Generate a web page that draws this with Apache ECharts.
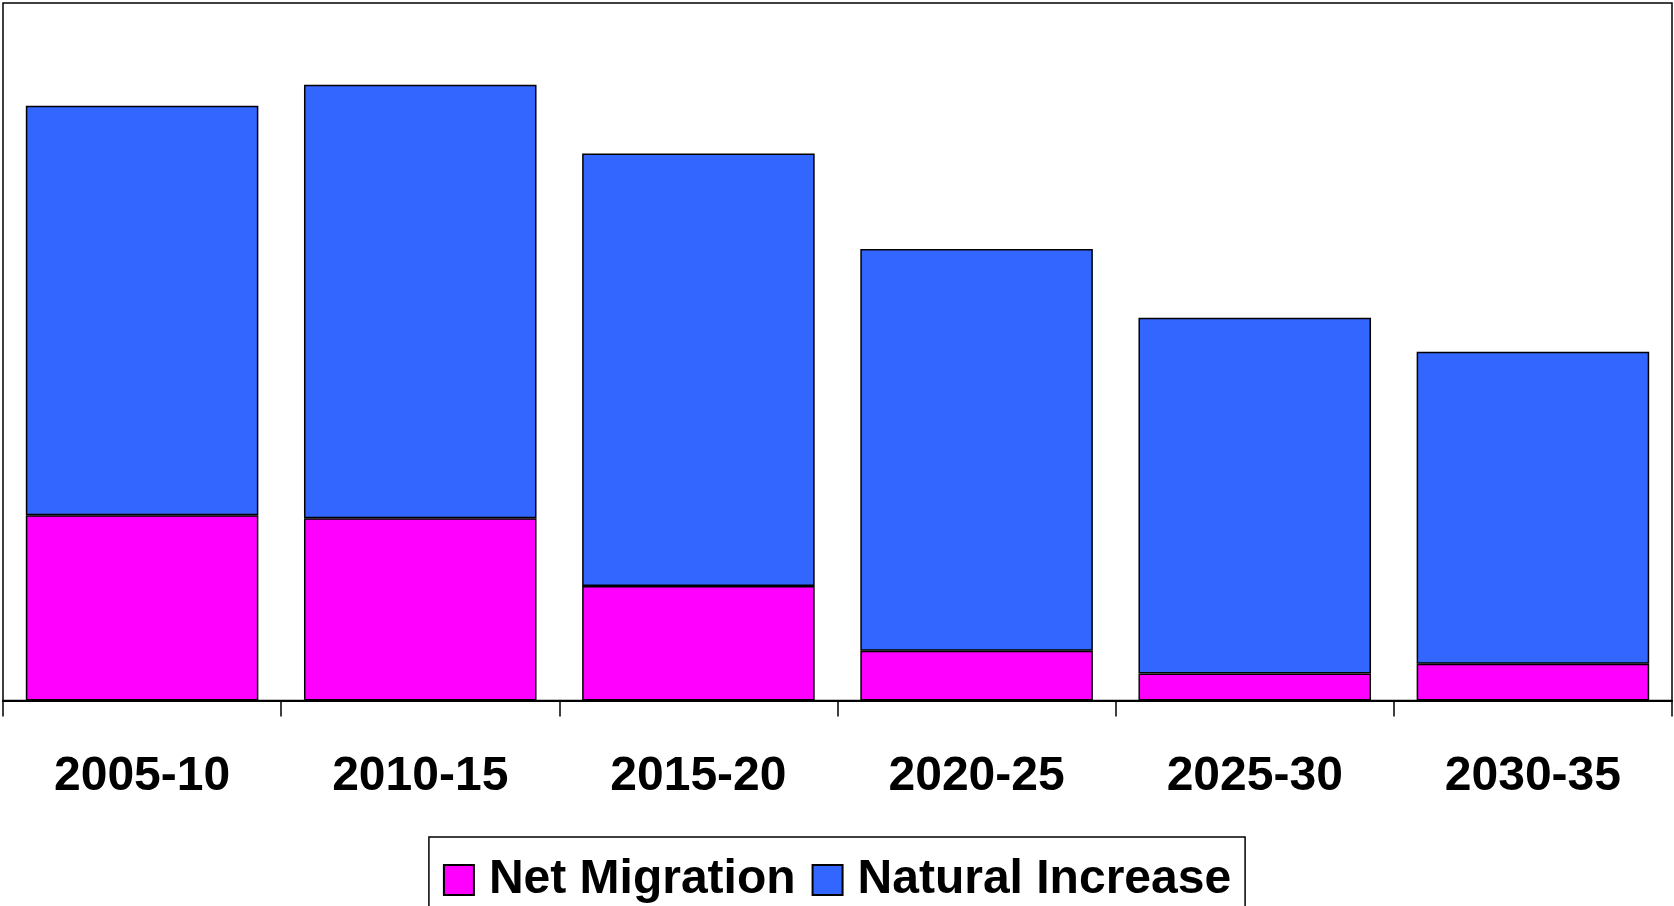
<!DOCTYPE html>
<html>
<head>
<meta charset="utf-8">
<script src="https://cdn.jsdelivr.net/npm/echarts@6/dist/echarts.min.js"></script>
<style>
  html, body { margin: 0; padding: 0; background: #fff; }
  #chart { width: 1674px; height: 906px; }
</style>
</head>
<body>
<div id="chart"></div>
<script>
// periods and components of population change
var periods = ['2005-10', '2010-15', '2015-20', '2020-25', '2025-30', '2030-35'];
var net_migration = [18.6, 18.3, 11.5, 5.0, 2.7, 3.7];
var natural_increase = [41.1, 43.5, 43.4, 40.3, 35.7, 31.3];
var y_max = 70;

var font = "'Liberation Sans', Arial, sans-serif";

var chart = echarts.init(document.getElementById('chart'));

var option = {
  animation: false,
  grid: {
    left: 3,
    right: 2,
    top: 3,
    bottom: 205.5,
    show: true,
    borderColor: '#000',
    borderWidth: 1.5,
    backgroundColor: '#fff'
  },
  legend: {
    top: 837,
    left: 'center',
    itemWidth: 30,
    itemHeight: 30,
    itemGap: 16,
    padding: [19, 14, 60, 14],
    borderColor: '#000',
    borderWidth: 1.5,
    icon: 'rect',
    textStyle: {
      fontFamily: font,
      fontWeight: 'bold',
      fontSize: 48,
      color: '#000',
      padding: [0, 0, 0, 10]
    },
    data: ['Net Migration', 'Natural Increase']
  },
  xAxis: {
    type: 'category',
    data: periods,
    boundaryGap: true,
    axisLine: { lineStyle: { color: '#000', width: 2 } },
    axisTick: { show: true, length: 16, inside: false, alignWithLabel: false, lineStyle: { color: '#000', width: 1.5 } },
    axisLabel: {
      margin: 52,
      fontFamily: font,
      fontWeight: 'bold',
      fontSize: 48,
      color: '#000'
    }
  },
  yAxis: {
    type: 'value',
    min: 0,
    max: y_max,
    show: false,
    splitLine: { show: false }
  },
  series: [
    {
      name: 'Net Migration',
      type: 'bar',
      stack: 'total',
      barCategoryGap: '16.4%',
      data: net_migration,
      itemStyle: { color: '#FF00FF', borderColor: '#000', borderWidth: 1.5 }
    },
    {
      name: 'Natural Increase',
      type: 'bar',
      stack: 'total',
      barCategoryGap: '16.4%',
      data: natural_increase,
      itemStyle: { color: '#3366FF', borderColor: '#000', borderWidth: 1.5 }
    }
  ]
};

chart.setOption(option);
</script>
</body>
</html>
